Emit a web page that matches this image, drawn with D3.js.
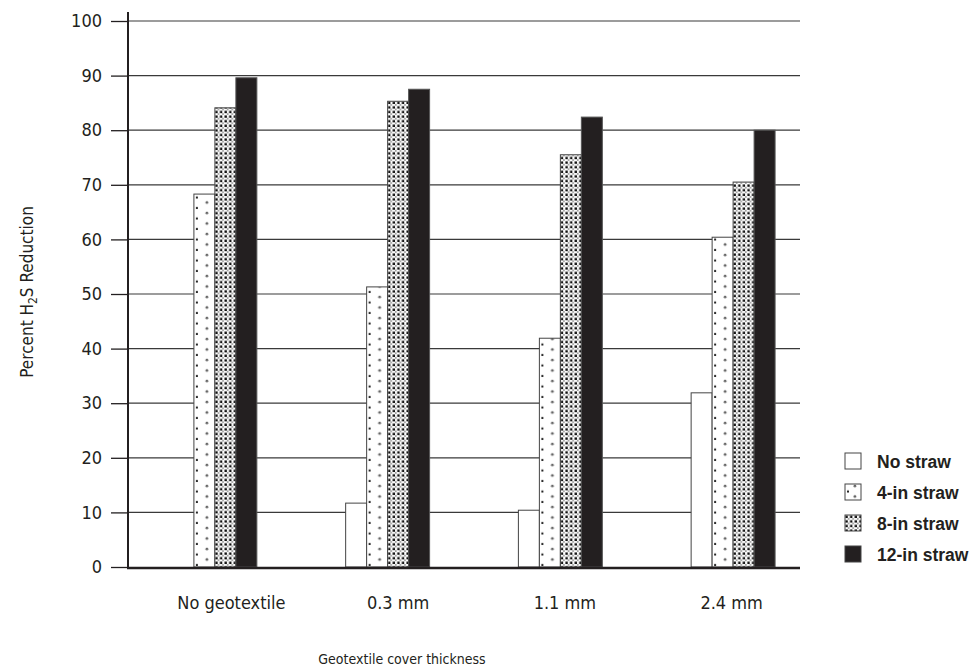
<!DOCTYPE html>
<html><head><meta charset="utf-8">
<script src="https://cdn.jsdelivr.net/npm/d3@7"></script>
<style>
html,body{margin:0;padding:0;background:#fff;}
svg text{font-family:"Liberation Sans Narrow","DejaVu Sans Condensed","Roboto Condensed","Liberation Sans",sans-serif;fill:#231f20;}
svg text.leg{font-family:"Liberation Sans",Arial,sans-serif;}
</style></head>
<body>
<svg id="chart" width="976" height="669"></svg>
<script>
const categories = ["No geotextile", "0.3 mm", "1.1 mm", "2.4 mm"];
const seriesNames = ["No straw", "4-in straw", "8-in straw", "12-in straw"];
const noStraw   = [0, 11.7, 10.4, 31.9];
const straw4in  = [68.3, 51.3, 41.9, 60.4];
const straw8in  = [84.1, 85.3, 75.5, 70.5];
const straw12in = [89.6, 87.5, 82.4, 80.0];
const yTicks = [0, 10, 20, 30, 40, 50, 60, 70, 80, 90, 100];
const yTitle = "Percent H2S Reduction";
const xTitle = "Geotextile cover thickness";

const seriesValues = [noStraw, straw4in, straw8in, straw12in];
const ink = "#231f20";

const svg = d3.select("#chart");
const defs = svg.append("defs");

const y = d3.scaleLinear().domain([0, 100]).range([567, 21]);
const xGroup = d3.scaleBand().domain(categories).range([128, 820]).paddingInner(0.514).paddingOuter(0.26);
const xSub = d3.scaleBand().domain(seriesNames).range([0, xGroup.bandwidth()]);
const xLabel = d3.scaleBand().domain(categories).range([148, 815]);

// gridlines
svg.append("g").selectAll("line").data(yTicks.filter(t => t > 0)).join("line")
  .attr("x1", 128).attr("x2", 800)
  .attr("y1", d => y(d)).attr("y2", d => y(d))
  .attr("stroke", "#3a3a3a").attr("stroke-width", 1.2);

// y axis
const yAxis = d3.axisLeft(y).tickValues(yTicks).tickSize(17).tickPadding(9).tickFormat(d3.format("d"));
const yg = svg.append("g").attr("transform", "translate(128,0)").call(yAxis);
yg.select(".domain").remove();
yg.selectAll(".tick line").attr("stroke", ink).attr("stroke-width", 1.3);
yg.selectAll(".tick text").attr("font-size", 18).attr("fill", ink);
svg.append("line").attr("x1", 128).attr("x2", 128).attr("y1", 12).attr("y2", 569)
  .attr("stroke", ink).attr("stroke-width", 2);

// bars
const rows = [];
categories.forEach((c, i) => {
  seriesNames.forEach((s, j) => {
    rows.push({cat: c, ser: s, si: j, v: seriesValues[j][i], id: "p" + i + "_" + j});
  });
});

function makePattern(id, si, x0, w) {
  if (si === 1) {
    const p = defs.append("pattern").attr("id", id).attr("patternUnits", "userSpaceOnUse")
      .attr("x", x0).attr("y", 0).attr("width", w).attr("height", 10.5);
    p.append("rect").attr("width", w).attr("height", 10.5).attr("fill", "#fff");
    p.append("circle").attr("cx", w * 0.62).attr("cy", 3).attr("r", 1.4).attr("fill", "#666");
    p.append("rect").attr("x", 2).attr("y", 7.5).attr("width", 2).attr("height", 2).attr("fill", "#222");
  } else if (si === 2) {
    const p = defs.append("pattern").attr("id", id).attr("patternUnits", "userSpaceOnUse")
      .attr("x", x0).attr("y", 0).attr("width", 4.6).attr("height", 4.6);
    p.append("rect").attr("width", 4.6).attr("height", 4.6).attr("fill", "#fff");
    p.append("rect").attr("x", 0.4).attr("y", 0.4).attr("width", 2.4).attr("height", 2.4).attr("fill", "#111");
    p.append("circle").attr("cx", 3.6).attr("cy", 3.6).attr("r", 0.9).attr("fill", "#888");
  }
}

const barG = svg.append("g");
rows.filter(d => d.v > 0).forEach(d => {
  const bx = xGroup(d.cat) + xSub(d.ser);
  const bw = xSub.bandwidth();
  let fill;
  if (d.si === 0) fill = "#fff";
  else if (d.si === 3) fill = ink;
  else { makePattern(d.id, d.si, bx, bw); fill = "url(#" + d.id + ")"; }
  barG.append("rect")
    .attr("x", bx).attr("width", bw)
    .attr("y", y(d.v)).attr("height", y(0) - y(d.v))
    .attr("fill", fill)
    .attr("stroke", d.si === 3 ? "#555" : "#444").attr("stroke-width", 1);
});

// x axis line
svg.append("line").attr("x1", 127).attr("x2", 800).attr("y1", 568).attr("y2", 568)
  .attr("stroke", ink).attr("stroke-width", 2.6);

// x labels
svg.append("g").selectAll("text").data(categories).join("text")
  .attr("x", d => xLabel(d) + xLabel.bandwidth() / 2).attr("y", 609)
  .attr("text-anchor", "middle").attr("font-size", 18).text(d => d);

// titles
const yt = svg.append("text").attr("transform", "translate(33,292) rotate(-90)")
  .attr("text-anchor", "middle").attr("font-size", 17);
yt.append("tspan").text(yTitle.slice(0, 9));
yt.append("tspan").attr("font-size", 12).attr("dy", 4).text(yTitle.slice(9, 10));
yt.append("tspan").attr("dy", -4).text(yTitle.slice(10));

svg.append("text").attr("x", 402).attr("y", 664).attr("text-anchor", "middle")
  .attr("font-size", 14).text(xTitle);

// legend
const legend = svg.append("g");
seriesNames.forEach((s, j) => {
  const cy = 461 + j * 31;
  const bx = 845, bw = 16;
  let fill;
  if (j === 0) fill = "#fff";
  else if (j === 3) fill = ink;
  else { makePattern("leg" + j, j, bx, bw); fill = "url(#leg" + j + ")"; }
  legend.append("rect").attr("x", bx).attr("y", cy - 8).attr("width", bw).attr("height", 16)
    .attr("fill", fill).attr("stroke", "#444").attr("stroke-width", 1);
  legend.append("text").attr("class", "leg").attr("x", 877).attr("y", cy + 6.5).attr("font-size", 17.5)
    .attr("font-weight", "bold").text(s);
});
</script>
</body></html>
